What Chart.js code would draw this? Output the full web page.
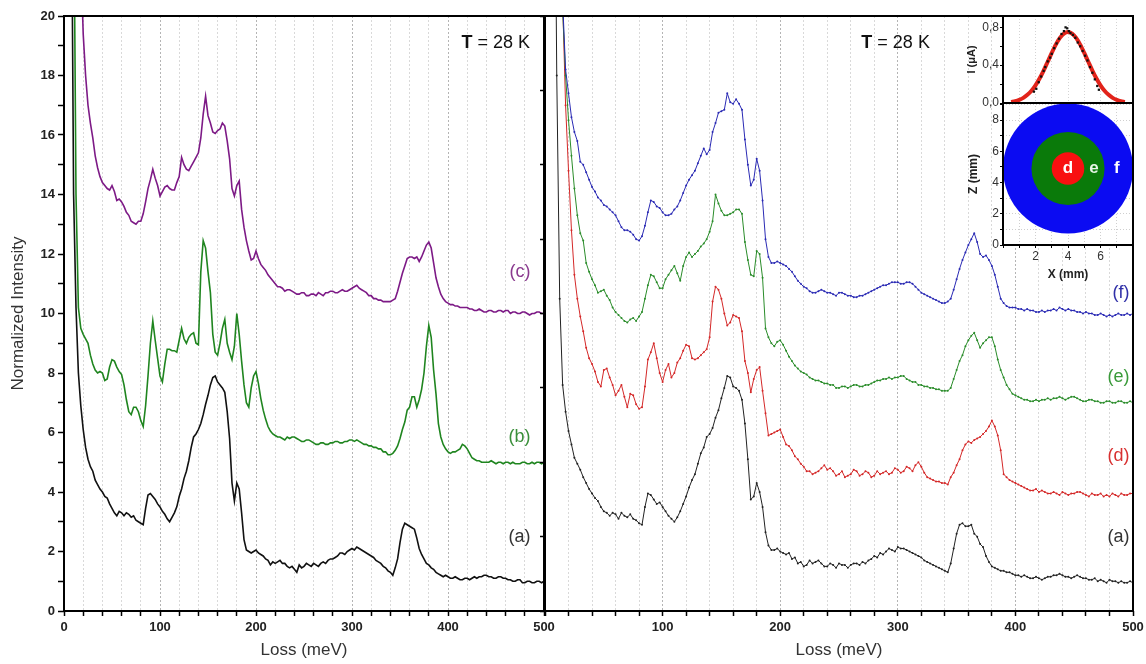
<!DOCTYPE html>
<html>
<head>
<meta charset="utf-8">
<script src="https://cdn.jsdelivr.net/npm/chart.js@4/dist/chart.umd.min.js"></script>
<style>
html, body { margin: 0; padding: 0; background: #fff; }
#wrap { position: relative; width: 1146px; height: 664px; overflow: hidden; }
canvas { position: absolute; left: 0; top: 0; }
</style>
</head>
<body>
<div id="wrap">
  <canvas id="left" width="1146" height="664"></canvas>
  <canvas id="right" width="1146" height="664"></canvas>
  <canvas id="insetTop" width="1146" height="664"></canvas>
  <canvas id="insetMap" width="1146" height="664"></canvas>
</div>
<script>
// energy loss (meV)
const loss = [
  5,7.5,10,12.5,15,17.5,20,22.5,25,27.5,30,32.5,35,37.5,40,42.5,45,47.5,50,52.5,
  55,57.5,60,62.5,65,67.5,70,72.5,75,77.5,80,82.5,85,87.5,90,92.5,95,97.5,100,102.5,
  105,107.5,110,112.5,115,117.5,120,122.5,125,127.5,130,132.5,135,137.5,140,142.5,145,147.5,150,152.5,
  155,157.5,160,162.5,165,167.5,170,172.5,175,177.5,180,182.5,185,187.5,190,192.5,195,197.5,200,202.5,
  205,207.5,210,212.5,215,217.5,220,222.5,225,227.5,230,232.5,235,237.5,240,242.5,245,247.5,250,252.5,
  255,257.5,260,262.5,265,267.5,270,272.5,275,277.5,280,282.5,285,287.5,290,292.5,295,297.5,300,302.5,
  305,307.5,310,312.5,315,317.5,320,322.5,325,327.5,330,332.5,335,337.5,340,342.5,345,347.5,350,352.5,
  355,357.5,360,362.5,365,367.5,370,372.5,375,377.5,380,382.5,385,387.5,390,392.5,395,397.5,400,402.5,
  405,407.5,410,412.5,415,417.5,420,422.5,425,427.5,430,432.5,435,437.5,440,442.5,445,447.5,450,452.5,
  455,457.5,460,462.5,465,467.5,470,472.5,475,477.5,480,482.5,485,487.5,490,492.5,495,497.5,500]

// left panel: (a), (b), (c)
const specA_left = [
  45,26,14,10.2,8.0,6.9,6.1,5.5,5.1,4.85,4.7,4.4,4.25,4.1,4.0,3.85,3.8,3.6,3.45,3.3,
  3.2,3.35,3.3,3.2,3.3,3.25,3.15,3.2,3.05,3.0,2.95,2.9,3.45,3.9,3.95,3.85,3.75,3.6,3.5,3.35,
  3.25,3.1,3.0,3.15,3.3,3.5,3.85,4.1,4.45,4.7,5.05,5.5,5.85,5.95,6.1,6.3,6.6,6.95,7.25,7.6,
  7.85,7.9,7.7,7.6,7.5,7.35,6.7,5.8,4.3,3.7,4.3,4.1,3.3,2.4,2.05,2.0,1.95,2.0,2.05,1.95,
  1.9,1.85,1.75,1.7,1.55,1.65,1.6,1.65,1.7,1.6,1.6,1.5,1.45,1.5,1.4,1.3,1.55,1.45,1.5,1.6,
  1.55,1.5,1.6,1.55,1.5,1.6,1.65,1.6,1.7,1.75,1.75,1.8,1.85,1.95,1.95,1.9,2.0,2.05,2.1,2.05,
  2.15,2.1,2.05,2.0,1.95,1.9,1.85,1.8,1.7,1.65,1.6,1.5,1.45,1.35,1.3,1.2,1.45,1.75,2.3,2.75,
  2.95,2.9,2.85,2.8,2.75,2.45,2.1,1.9,1.75,1.6,1.55,1.45,1.4,1.3,1.25,1.2,1.15,1.2,1.15,1.1,
  1.1,1.15,1.1,1.05,1.05,1.1,1.1,1.05,1.1,1.15,1.1,1.15,1.15,1.2,1.2,1.15,1.15,1.1,1.1,1.15,
  1.15,1.1,1.1,1.05,1.05,1.0,1.0,1.05,1.05,0.95,0.95,1.0,1.0,0.95,0.95,1.0,1.0,0.95,1.0]
const specB_left = [
  45,35,25,14,10.2,9.5,9.3,9.15,9.0,8.6,8.3,8.1,8.0,8.05,8.0,7.75,7.8,8.2,8.45,8.4,
  8.2,8.05,7.95,7.6,7.1,6.7,6.6,6.85,6.85,6.7,6.4,6.2,6.9,7.9,9.0,9.75,9.1,8.5,7.9,7.7,
  8.3,8.8,8.8,8.75,8.75,8.7,9.1,9.5,9.15,9.0,9.2,9.3,9.35,9.0,8.95,11.4,12.45,12.2,11.4,10.7,
  9.3,8.7,8.6,9.0,9.5,9.8,9.0,8.7,8.45,8.9,10.0,9.3,8.4,7.6,7.0,6.85,7.5,7.9,8.05,7.65,
  7.15,6.75,6.45,6.2,6.05,5.95,5.9,5.85,5.85,5.8,5.75,5.85,5.8,5.85,5.85,5.8,5.75,5.7,5.7,5.75,
  5.75,5.7,5.65,5.6,5.6,5.65,5.65,5.6,5.6,5.65,5.65,5.7,5.7,5.65,5.65,5.7,5.7,5.75,5.75,5.7,
  5.75,5.7,5.65,5.6,5.6,5.55,5.55,5.5,5.5,5.45,5.45,5.35,5.35,5.25,5.25,5.3,5.4,5.55,5.8,6.1,
  6.35,6.75,6.85,7.2,7.2,6.85,7.1,7.45,8.0,8.9,9.6,9.2,8.1,7.3,6.3,5.85,5.6,5.45,5.35,5.3,
  5.35,5.35,5.4,5.45,5.6,5.55,5.45,5.3,5.15,5.1,5.05,5.05,5.0,5.0,5.0,5.0,5.05,5.0,4.95,5.0,
  5.0,4.95,5.0,5.0,4.95,5.0,4.95,4.95,4.95,5.0,5.0,4.95,4.95,5.0,4.95,5.0,5.0,4.95,5.0]
const specC_left = [
  45,40,35,30,26,22,19.4,18.0,17.0,16.4,15.9,15.3,14.9,14.6,14.4,14.3,14.2,14.15,14.3,14.1,
  13.8,13.85,13.75,13.6,13.4,13.3,13.1,13.05,13.0,13.1,13.1,13.35,13.75,14.2,14.5,14.85,14.55,14.3,13.95,14.1,
  14.25,14.3,14.2,14.15,14.15,14.4,14.6,15.25,15.0,14.85,14.8,14.95,15.1,15.25,15.4,15.9,16.7,17.3,16.65,16.4,
  16.1,16.05,16.15,16.2,16.4,16.3,15.8,15.2,14.2,13.95,14.3,14.45,13.5,12.9,12.45,12.1,11.8,11.85,12.1,11.85,
  11.65,11.55,11.45,11.3,11.2,11.1,11.0,10.9,10.9,10.85,10.75,10.8,10.8,10.75,10.7,10.65,10.65,10.7,10.7,10.6,
  10.6,10.65,10.65,10.6,10.7,10.65,10.6,10.7,10.7,10.75,10.75,10.7,10.7,10.75,10.8,10.75,10.75,10.8,10.85,10.9,
  10.95,10.85,10.8,10.75,10.7,10.6,10.6,10.5,10.5,10.45,10.45,10.4,10.4,10.4,10.4,10.45,10.5,10.75,11.05,11.35,
  11.6,11.85,11.9,11.9,11.85,11.9,11.75,11.9,12.1,12.3,12.4,12.2,11.7,11.2,10.9,10.65,10.5,10.4,10.35,10.3,
  10.3,10.25,10.25,10.2,10.2,10.2,10.2,10.15,10.15,10.1,10.1,10.15,10.1,10.05,10.05,10.1,10.1,10.05,10.05,10.1,
  10.1,10.05,10.1,10.1,10.0,10.05,10.05,10.0,10.0,10.05,10.05,10.0,9.95,10.0,10.0,10.05,10.05,10.0,10.0]

// right panel: (a), (d), (e), (f)
const specA_right = [
  45,30,18,10.5,7.6,6.7,6.05,5.6,5.15,4.95,4.75,4.5,4.3,4.1,3.95,3.8,3.7,3.5,3.35,3.3,
  3.2,3.3,3.25,3.1,3.3,3.2,3.15,3.25,3.1,3.05,2.95,2.9,3.5,3.95,3.9,3.75,3.6,3.65,3.5,3.35,
  3.2,3.1,3.0,3.15,3.35,3.6,3.85,4.15,4.4,4.6,4.95,5.3,5.5,5.85,5.95,6.15,6.5,6.75,7.15,7.5,
  7.9,7.85,7.55,7.5,7.4,7.1,6.3,5.1,3.75,3.85,4.3,4.0,3.5,2.65,2.2,2.05,2.05,2.1,2.0,1.95,
  1.9,1.95,1.75,1.8,1.6,1.65,1.5,1.55,1.7,1.6,1.65,1.7,1.6,1.5,1.5,1.6,1.55,1.45,1.6,1.55,
  1.55,1.45,1.55,1.6,1.6,1.55,1.65,1.6,1.7,1.75,1.85,1.8,1.95,1.9,2.0,2.1,2.05,2.0,2.15,2.1,
  2.1,2.05,2.0,1.95,1.9,1.85,1.8,1.7,1.65,1.6,1.55,1.5,1.45,1.4,1.35,1.3,1.6,2.1,2.6,2.9,
  2.95,2.85,2.85,2.9,2.6,2.5,2.25,2.15,1.85,1.65,1.5,1.45,1.4,1.35,1.35,1.3,1.3,1.25,1.2,1.2,
  1.15,1.2,1.15,1.1,1.1,1.15,1.1,1.05,1.1,1.15,1.15,1.2,1.2,1.25,1.2,1.15,1.15,1.1,1.15,1.2,
  1.15,1.1,1.1,1.05,1.05,1.1,1.0,1.05,1.0,0.95,1.05,1.0,1.0,0.95,1.0,0.95,0.95,1.0,0.95]
const specD = [
  45,38,30,24,20.5,17.0,14.8,12.8,11.3,10.5,9.9,9.4,8.85,8.5,8.3,8.05,7.7,7.55,8.1,8.15,
  7.85,7.6,7.25,7.4,7.6,7.2,6.85,7.3,7.25,6.95,6.8,6.85,7.55,8.45,8.7,9.0,8.5,8.0,7.7,8.1,
  8.3,7.85,8.0,8.35,8.5,8.75,8.95,8.9,8.5,8.45,8.5,8.6,8.7,8.8,9.2,10.4,10.9,10.8,10.5,10.0,
  9.6,9.7,9.95,9.9,9.85,9.4,8.4,8.0,7.35,7.8,8.1,8.2,7.4,6.65,5.9,5.95,6.0,6.05,6.1,5.85,
  5.6,5.55,5.4,5.2,5.1,4.95,4.85,4.7,4.7,4.6,4.65,4.7,4.8,4.9,4.75,4.8,4.7,4.55,4.6,4.7,
  4.5,4.55,4.6,4.75,4.7,4.55,4.6,4.7,4.65,4.5,4.55,4.7,4.6,4.65,4.7,4.6,4.65,4.8,4.75,4.65,
  4.7,4.85,4.8,4.7,4.9,5.0,4.85,4.65,4.5,4.45,4.4,4.35,4.35,4.3,4.3,4.25,4.5,4.65,4.9,5.1,
  5.4,5.6,5.7,5.65,5.75,5.8,5.85,5.95,6.05,6.2,6.4,6.2,5.9,5.4,4.6,4.5,4.4,4.35,4.3,4.25,
  4.2,4.15,4.1,4.05,4.05,4.1,4.0,4.05,4.0,3.95,3.95,4.0,3.95,3.9,4.0,3.95,3.9,3.95,3.95,4.0,
  4.0,3.95,3.9,3.85,3.95,3.9,3.9,3.95,3.85,3.9,3.85,3.95,3.9,3.85,3.95,3.9,3.9,3.95,3.95]
const specE = [
  45,38,30,24,20.2,18.0,16.5,15.3,14.2,13.3,12.7,12.45,11.7,11.4,11.15,10.95,10.7,10.75,10.8,10.6,
  10.45,10.2,10.05,9.95,9.85,9.75,9.7,9.8,9.85,9.75,9.9,10.05,10.5,10.95,11.3,11.25,11.05,10.85,10.85,11.15,
  11.3,11.45,11.6,11.35,11.1,11.6,11.9,12.05,11.9,12.0,12.1,12.25,12.35,12.5,12.75,13.1,14.0,13.7,13.45,13.3,
  13.3,13.35,13.4,13.5,13.5,13.35,12.4,11.8,11.3,11.25,12.1,12.0,11.2,9.5,9.2,9.0,8.9,9.05,9.1,8.95,
  8.75,8.55,8.4,8.25,8.15,8.05,8.0,7.95,7.85,7.8,7.75,7.75,7.7,7.65,7.65,7.6,7.6,7.5,7.5,7.55,
  7.55,7.5,7.55,7.6,7.6,7.55,7.55,7.6,7.6,7.65,7.7,7.75,7.75,7.8,7.8,7.85,7.8,7.85,7.85,7.9,
  7.9,7.8,7.75,7.7,7.7,7.6,7.6,7.55,7.55,7.5,7.5,7.45,7.45,7.4,7.4,7.4,7.5,7.8,8.1,8.4,
  8.6,8.9,9.1,9.25,9.35,9.1,8.85,9.0,9.1,9.2,9.2,8.9,8.45,8.1,7.85,7.6,7.45,7.3,7.25,7.2,
  7.15,7.1,7.1,7.05,7.05,7.1,7.05,7.1,7.1,7.15,7.1,7.15,7.15,7.2,7.15,7.1,7.15,7.2,7.2,7.15,
  7.1,7.05,7.05,7.1,7.1,7.05,7.05,7.0,7.0,7.05,7.05,7.0,7.0,7.05,7.05,7.0,7.0,7.05,7.0]
const specF = [
  45,38,30,24,20.5,18.2,17.4,16.6,16.1,15.8,15.1,15.0,14.75,14.5,14.25,14.1,13.9,13.8,13.65,13.6,
  13.5,13.4,13.3,13.1,12.9,12.8,12.8,12.75,12.65,12.5,12.45,12.6,12.95,13.4,13.8,13.75,13.6,13.55,13.4,13.3,
  13.3,13.35,13.5,13.6,13.8,14.05,14.3,14.5,14.65,14.8,15.05,15.3,15.55,15.35,15.5,16.1,16.4,16.75,16.8,16.85,
  17.4,17.1,17.05,17.2,17.05,16.85,15.85,15.0,14.3,14.5,15.2,14.8,13.8,12.5,11.9,11.7,11.7,11.75,11.7,11.65,
  11.6,11.5,11.4,11.25,11.1,11.0,10.9,10.85,10.75,10.7,10.7,10.75,10.8,10.75,10.7,10.7,10.65,10.6,10.7,10.7,
  10.65,10.6,10.6,10.55,10.55,10.6,10.6,10.65,10.7,10.75,10.8,10.85,10.9,10.95,10.95,11.0,11.05,11.05,11.05,11.0,
  11.0,11.05,11.05,11.0,10.9,10.8,10.7,10.65,10.6,10.55,10.5,10.45,10.4,10.35,10.35,10.4,10.5,10.8,11.15,11.5,
  11.8,12.05,12.3,12.5,12.7,12.4,12.0,11.9,11.95,11.8,11.6,11.3,10.9,10.5,10.35,10.25,10.2,10.2,10.2,10.15,
  10.15,10.1,10.15,10.1,10.1,10.05,10.05,10.1,10.05,10.1,10.1,10.15,10.1,10.2,10.15,10.1,10.15,10.1,10.1,10.05,
  10.05,10.0,10.05,10.0,10.0,9.95,9.95,10.0,9.95,9.9,9.95,9.9,9.95,10.0,9.95,9.95,10.0,9.95,10.0]

// inset: beam profile, I (uA) against X (mm)
const profX = [0.5,0.75,1,1.25,1.5,1.75,2,2.25,2.5,2.75,3,3.25,3.5,3.75,4,4.25,4.5,4.75,5,5.25,5.5,5.75,6,6.25,6.5,6.75,7,7.25,7.5]
const profFit = [0.011,0.019,0.033,0.054,0.086,0.129,0.187,0.259,0.343,0.436,0.53,0.617,0.688,0.734,0.75,0.734,0.688,0.617,0.53,0.436,0.343,0.259,0.187,0.129,0.086,0.054,0.033,0.019,0.011]
const measX = [1.9,2.05,2.2,2.35,2.5,2.6,2.75,2.9,3.0,3.15,3.3,3.45,3.6,3.75,3.85,3.95,4.05,4.15,4.3,4.45,4.6,4.75,4.9,5.05,5.2,5.35,5.5,5.65,5.8,5.9]
const measI = [0.12,0.15,0.22,0.28,0.34,0.38,0.44,0.48,0.52,0.58,0.63,0.68,0.73,0.76,0.8,0.79,0.76,0.74,0.72,0.69,0.64,0.6,0.55,0.5,0.45,0.38,0.32,0.25,0.18,0.14]

// inset: zones on the sample (mm), innermost first so it is drawn on top
const zoneNames = ['d', 'e', 'f']
const zoneRadius = [1.0, 2.25, 4.0]
const zoneColors = ['#f81010', '#0a7a0a', '#0b0bf2']
const beamCenter = {x: 4, y: 4.9}

const FONT = "'Liberation Sans', Arial, sans-serif"
const pts = (xs, ys) => xs.map((x, i) => ({x: x, y: ys[i]}))

const framePlugin = {
  id: 'frame',
  beforeDraw(chart, args, opts) {
    if (!opts.fill) return
    const a = chart.chartArea, ctx = chart.ctx
    ctx.save()
    ctx.fillStyle = opts.fill
    ctx.fillRect(a.left, a.top, a.right - a.left, a.bottom - a.top)
    ctx.restore()
  },
  afterDraw(chart, args, opts) {
    const a = chart.chartArea, ctx = chart.ctx
    ctx.save()
    ctx.strokeStyle = '#000'
    ctx.lineWidth = opts.width || 2
    ctx.strokeRect(a.left, a.top, a.right - a.left, a.bottom - a.top)
    ctx.restore()
  }
}

const notesPlugin = {
  id: 'notes',
  afterDraw(chart, args, opts) {
    const ctx = chart.ctx, xs = chart.scales.x, ys = chart.scales.y
    ;(opts.items || []).forEach(n => {
      const px = xs.getPixelForValue(n.x), py = ys.getPixelForValue(n.y)
      ctx.save()
      ctx.textBaseline = 'middle'
      const widths = n.parts.map(p => { ctx.font = p.font; return ctx.measureText(p.text).width })
      const total = widths.reduce((s, w) => s + w, 0)
      let x0 = n.align === 'right' ? px - total : n.align === 'center' ? px - total / 2 : px
      n.parts.forEach((p, i) => {
        ctx.font = p.font
        ctx.fillStyle = p.color
        ctx.fillText(p.text, x0, py)
        x0 += widths[i]
      })
      ctx.restore()
    })
  }
}

function lossAxis(showZero) {
  return {
    type: 'linear', min: 0, max: 500,
    afterFit(s) { s.height = 53; s.paddingLeft = 0; s.paddingRight = 0 },
    ticks: {
      stepSize: 20, autoSkip: false, maxRotation: 0, padding: 4, color: '#222',
      font: {family: FONT, size: 13, weight: 'bold'},
      callback: v => (v % 100 === 0 && (showZero || v !== 0)) ? String(v) : ''
    },
    grid: {
      color: c => (c.tick && c.tick.value % 100 === 0) ? '#b4b4b4' : '#d9d9d9',
      lineWidth: 1, tickLength: 5, tickColor: '#000', tickWidth: 1.5
    },
    border: {display: false, dash: [2, 2]},
    title: {display: true, text: 'Loss (meV)', color: '#333', font: {family: FONT, size: 17}, padding: {top: 0, bottom: 3}}
  }
}

function lineSet(ys, color, width, dots) {
  return {
    data: pts(loss, ys), borderColor: color, borderWidth: width,
    pointRadius: dots ? 1 : 0, pointBorderWidth: 0, pointBackgroundColor: color,
    tension: 0
  }
}

const label = (text, color) => ({text: text, color: color, font: '18px ' + FONT})
const tempNote = x => ({x: x, y: 19.1, align: 'left', parts: [
  {text: 'T', color: '#111', font: 'bold 18px ' + FONT},
  {text: ' = 28 K', color: '#111', font: '18px ' + FONT}
]})

new Chart(document.getElementById('left'), {
  type: 'line',
  data: {datasets: [
    lineSet(specC_left, '#7d1a86', 1.6, false),
    lineSet(specB_left, '#1f851f', 1.6, false),
    lineSet(specA_left, '#111111', 1.6, false)
  ]},
  options: {
    responsive: false, animation: false, devicePixelRatio: 1,
    layout: {autoPadding: false, padding: {left: 0, top: 16, right: 602, bottom: 0}},
    plugins: {
      legend: {display: false}, tooltip: {enabled: false},
      frame: {width: 2},
      notes: {items: [
        tempNote(414),
        {x: 486, y: 11.4, align: 'right', parts: [label('(c)', '#8a3a8f')]},
        {x: 486, y: 5.85, align: 'right', parts: [label('(b)', '#3a8f3a')]},
        {x: 486, y: 2.5, align: 'right', parts: [label('(a)', '#333')]}
      ]}
    },
    scales: {
      x: lossAxis(true),
      y: {
        min: 0, max: 20,
        afterFit(s) { s.width = 64; s.paddingTop = 0; s.paddingBottom = 0 },
        ticks: {stepSize: 1, autoSkip: false, padding: 3, color: '#222',
          font: {family: FONT, size: 13, weight: 'bold'},
          callback: v => v % 2 === 0 ? String(v) : ''},
        grid: {drawOnChartArea: false, tickLength: 6, tickColor: '#000', tickWidth: 1.5},
        border: {display: false},
        title: {display: true, text: 'Normalized Intensity', color: '#333',
          font: {family: FONT, size: 17}, padding: {top: 8, bottom: 0}}
      }
    }
  },
  plugins: [framePlugin, notesPlugin]
})

new Chart(document.getElementById('right'), {
  type: 'line',
  data: {datasets: [
    lineSet(specF, '#2a2ab4', 1, true),
    lineSet(specE, '#2a8c2a', 1, true),
    lineSet(specD, '#d42828', 1, true),
    lineSet(specA_right, '#222222', 1, true)
  ]},
  options: {
    responsive: false, animation: false, devicePixelRatio: 1,
    layout: {autoPadding: false, padding: {left: 530, top: 16, right: 13, bottom: 0}},
    plugins: {
      legend: {display: false}, tooltip: {enabled: false},
      frame: {width: 2},
      notes: {items: [
        tempNote(269),
        {x: 497, y: 10.7, align: 'right', parts: [label('(f)', '#3030a8')]},
        {x: 497, y: 7.85, align: 'right', parts: [label('(e)', '#3a9a3a')]},
        {x: 497, y: 5.2, align: 'right', parts: [label('(d)', '#d83030')]},
        {x: 497, y: 2.5, align: 'right', parts: [label('(a)', '#333')]}
      ]}
    },
    scales: {
      x: lossAxis(false),
      y: {
        min: 0, max: 20,
        afterFit(s) { s.width = 15; s.paddingTop = 0; s.paddingBottom = 0 },
        ticks: {stepSize: 2.5, display: false},
        grid: {drawOnChartArea: false, tickLength: 5, tickColor: '#000', tickWidth: 1.5},
        border: {display: false}
      }
    }
  },
  plugins: [framePlugin, notesPlugin]
})

const insetTick = {family: FONT, size: 12}

new Chart(document.getElementById('insetTop'), {
  type: 'line',
  data: {datasets: [
    {data: pts(measX, measI), showLine: false, pointStyle: 'rect', pointRadius: 1.6,
      pointBorderWidth: 0, pointBackgroundColor: '#111'},
    {data: pts(profX, profFit), borderColor: '#e2231a', borderWidth: 4, pointRadius: 0, tension: 0.3}
  ]},
  options: {
    responsive: false, animation: false, devicePixelRatio: 1,
    layout: {autoPadding: false, padding: {left: 958, top: 16, right: 13, bottom: 561}},
    plugins: {legend: {display: false}, tooltip: {enabled: false}, frame: {width: 2, fill: '#fff'}},
    scales: {
      x: {
        type: 'linear', min: 0, max: 8,
        afterFit(s) { s.height = 0; s.paddingLeft = 0; s.paddingRight = 0 },
        ticks: {display: false, stepSize: 1},
        grid: {drawTicks: false, color: '#d4d4d4'},
        border: {display: false, dash: [1, 2]}
      },
      y: {
        min: 0, max: 0.92,
        afterFit(s) { s.width = 45; s.paddingTop = 0; s.paddingBottom = 0 },
        ticks: {stepSize: 0.2, includeBounds: false, autoSkip: false, padding: 1, color: '#333', font: insetTick,
          callback: v => { const k = Math.round(v * 10); return k % 4 === 0 ? (k / 10).toFixed(1).replace('.', ',') : '' }},
        grid: {drawOnChartArea: false, tickLength: 3, tickColor: '#000'},
        border: {display: false},
        title: {display: true, text: 'I (\u03bcA)', color: '#222',
          font: {family: FONT, size: 11, weight: 'bold'}, padding: {top: 7, bottom: 0}}
      }
    }
  },
  plugins: [framePlugin]
})

const mapChart = new Chart(document.getElementById('insetMap'), {
  type: 'bubble',
  data: {datasets: zoneNames.map((name, i) => ({
    label: name,
    data: [{x: beamCenter.x, y: beamCenter.y}],
    backgroundColor: zoneColors[i], borderColor: zoneColors[i], borderWidth: 0,
    hoverRadius: 0, clip: 0
  }))},
  options: {
    responsive: false, animation: false, devicePixelRatio: 1,
    layout: {autoPadding: false, padding: {left: 958, top: 103, right: 13, bottom: 379}},
    plugins: {
      legend: {display: false}, tooltip: {enabled: false}, frame: {width: 2, fill: '#fff'},
      notes: {items: [
        {x: 4.0, y: 4.9, align: 'center', parts: [{text: 'd', color: '#fff', font: 'bold 17px ' + FONT}]},
        {x: 5.6, y: 4.9, align: 'center', parts: [{text: 'e', color: '#e6f6e6', font: 'bold 17px ' + FONT}]},
        {x: 7.0, y: 4.9, align: 'center', parts: [{text: 'f', color: '#fff', font: 'bold 17px ' + FONT}]}
      ]}
    },
    scales: {
      x: {
        type: 'linear', min: 0, max: 8,
        afterFit(s) { s.height = 40; s.paddingLeft = 0; s.paddingRight = 0 },
        ticks: {stepSize: 1, autoSkip: false, maxRotation: 0, padding: 1, color: '#333', font: insetTick,
          callback: v => (v === 2 || v === 4 || v === 6) ? String(v) : ''},
        grid: {color: '#cfcfcf', tickLength: 3, tickColor: '#000'},
        border: {display: false, dash: [1, 2]},
        title: {display: true, text: 'X (mm)', color: '#222',
          font: {family: FONT, size: 12, weight: 'bold'}, padding: {top: 0, bottom: 3}}
      },
      y: {
        min: 0, max: 9.1,
        afterFit(s) { s.width = 45; s.paddingTop = 0; s.paddingBottom = 0 },
        ticks: {stepSize: 1, includeBounds: false, autoSkip: false, padding: 1, color: '#333', font: insetTick,
          callback: v => v % 2 === 0 ? String(v) : ''},
        grid: {color: '#cfcfcf', tickLength: 3, tickColor: '#000'},
        border: {display: false, dash: [1, 2]},
        title: {display: true, text: 'Z (mm)', color: '#222',
          font: {family: FONT, size: 12, weight: 'bold'}, padding: {top: 8, bottom: 0}}
      }
    }
  },
  plugins: [framePlugin, notesPlugin]
})

// zone radii are in mm: turn them into bubble sizes with the laid-out x scale
const sx = mapChart.scales.x
mapChart.data.datasets.forEach((ds, i) => {
  const r = Math.abs(sx.getPixelForValue(zoneRadius[i]) - sx.getPixelForValue(0))
  ds.data = [{x: beamCenter.x, y: beamCenter.y, r: r}]
})
mapChart.update()
</script>
</body>
</html>
